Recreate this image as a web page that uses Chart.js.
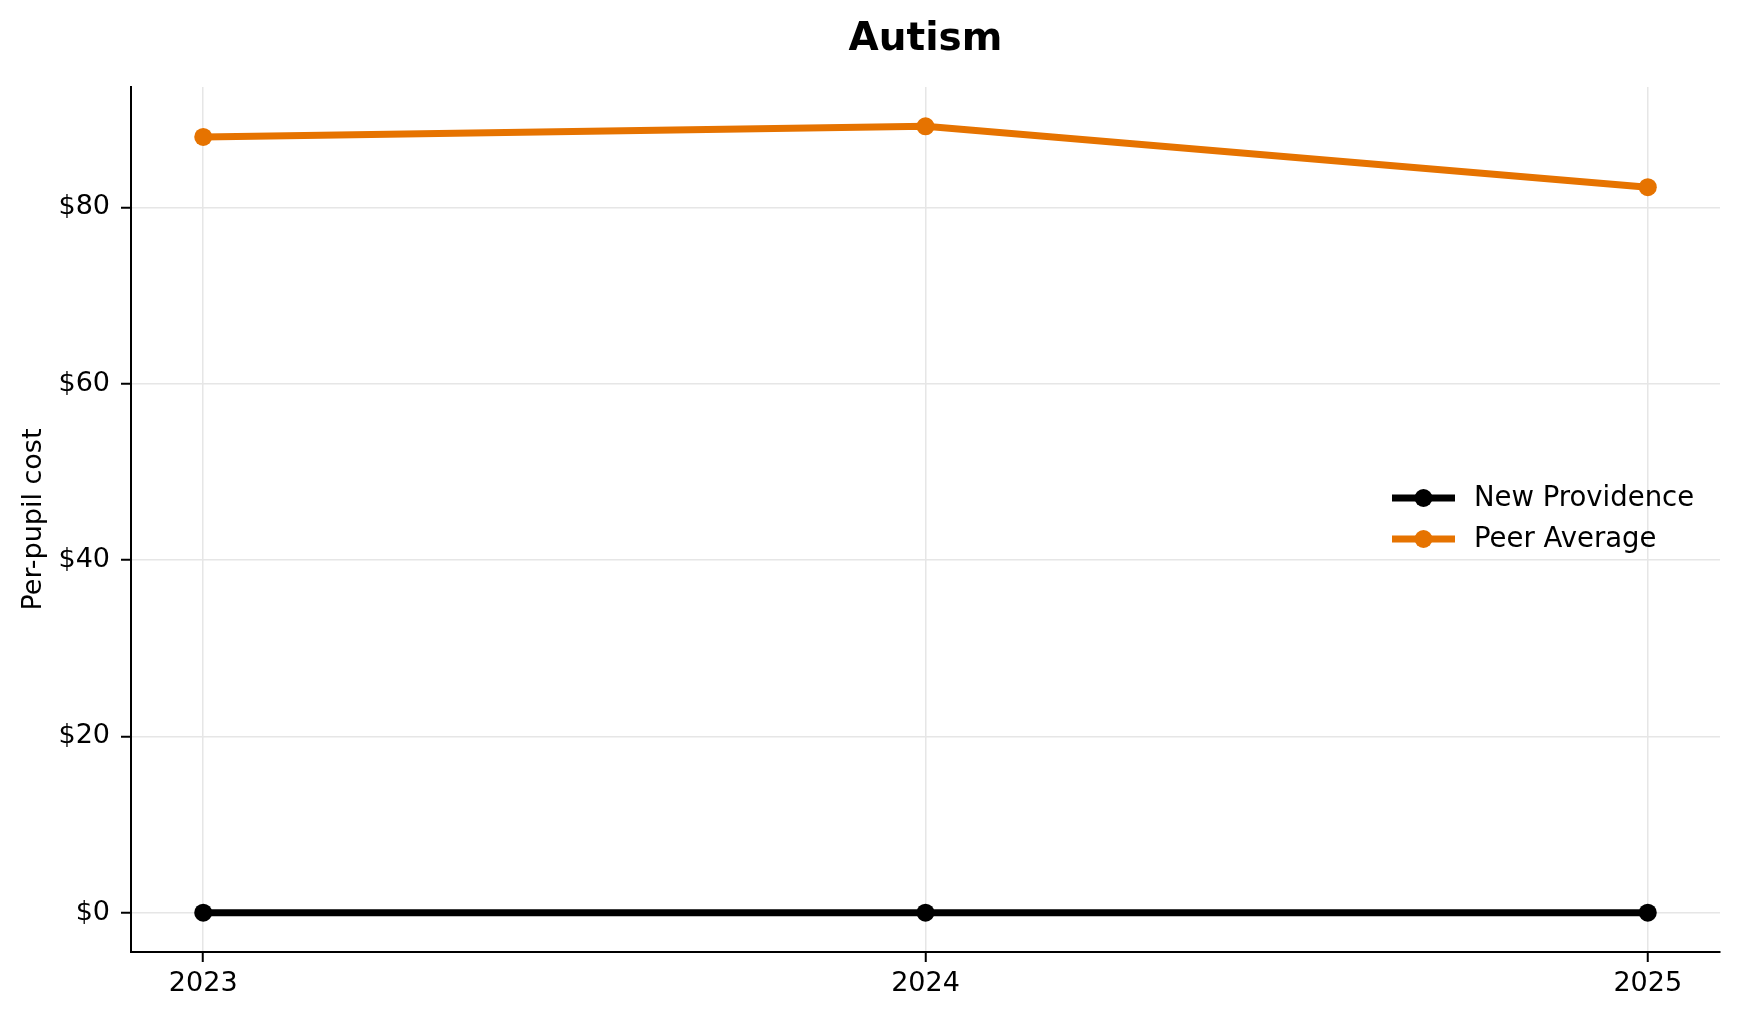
<!DOCTYPE html>
<html>
<head>
<meta charset="utf-8">
<script src="https://cdn.jsdelivr.net/npm/chart.js@4"></script>
<style>
  html, body { margin: 0; padding: 0; background: #fff; }
  #wrap { width: 1739px; height: 1019px; }
</style>
</head>
<body>
<div id="wrap"><canvas id="chart" width="1739" height="1019"></canvas></div>
<script>
// Chart data
const years = [2023, 2024, 2025];
const newProvidence = [0, 0, 0];
const peerAverage = [88.0, 89.2, 82.3];
const yTicks = [0, 20, 40, 60, 80];

const seriesNames = ["New Providence", "Peer Average"];
const seriesColors = ["#000000", "#e67300"];
const chartTitle = "Autism";

const FONT = "'DejaVu Sans', sans-serif";

const toPoints = (values) => values.map((v, i) => ({ x: years[i], y: v }));

// Title centred over the plot area (not the canvas), like matplotlib
const titlePlugin = {
  id: "axesTitle",
  afterDraw(chart) {
    const { ctx, chartArea } = chart;
    ctx.save();
    ctx.fillStyle = "#000";
    ctx.font = "bold 39px " + FONT;
    ctx.textAlign = "center";
    ctx.textBaseline = "alphabetic";
    ctx.fillText(chartTitle, (chartArea.left + chartArea.right) / 2, 50);
    ctx.restore();
  },
};

// Legend drawn inside the plot, matplotlib style
const legendPlugin = {
  id: "innerLegend",
  afterDraw(chart) {
    const ctx = chart.ctx;
    const rows = [498, 539];
    ctx.save();
    chart.data.datasets.forEach((ds, i) => {
      const y = rows[i];
      ctx.strokeStyle = ds.borderColor;
      ctx.lineWidth = 7;
      ctx.beginPath();
      ctx.moveTo(1392, y);
      ctx.lineTo(1455, y);
      ctx.stroke();
      ctx.fillStyle = ds.borderColor;
      ctx.beginPath();
      ctx.arc(1423.5, y, 9, 0, Math.PI * 2);
      ctx.fill();
      ctx.fillStyle = "#000";
      ctx.font = "27.5px " + FONT;
      ctx.textBaseline = "middle";
      ctx.textAlign = "left";
      ctx.fillText(ds.label, 1474, y + 1);
    });
    ctx.restore();
  },
};

const ctx = document.getElementById("chart").getContext("2d");
new Chart(ctx, {
  type: "line",
  data: {
    datasets: [
      {
        label: seriesNames[0],
        data: toPoints(newProvidence),
        borderColor: seriesColors[0],
        backgroundColor: seriesColors[0],
        borderWidth: 7,
        pointRadius: 9,
        pointBorderWidth: 0,
        tension: 0,
      },
      {
        label: seriesNames[1],
        data: toPoints(peerAverage),
        borderColor: seriesColors[1],
        backgroundColor: seriesColors[1],
        borderWidth: 7,
        pointRadius: 9,
        pointBorderWidth: 0,
        tension: 0,
      },
    ],
  },
  options: {
    responsive: false,
    animation: false,
    devicePixelRatio: 1,
    layout: { padding: { left: 0, right: 19, top: 87, bottom: 0 } },
    plugins: {
      legend: { display: false },
      tooltip: { enabled: false },
      title: { display: false },
    },
    scales: {
      x: {
        type: "linear",
        min: 2022.9,
        max: 2025.1,
        afterBuildTicks: (scale) => {
          scale.ticks = years.map((v) => ({ value: v }));
        },
        afterFit: (scale) => {
          scale.height = 67;
        },
        ticks: {
          color: "#000",
          font: { family: FONT, size: 27 },
          padding: 6,
          callback: (v) => String(v),
        },
        grid: {
          color: "#e6e6e6",
          lineWidth: 1.5,
          tickColor: "#000",
          tickLength: 10,
          tickWidth: 2,
        },
        border: { display: true, color: "#000", width: 2 },
      },
      y: {
        type: "linear",
        min: -4.46,
        max: 93.66,
        afterBuildTicks: (scale) => {
          scale.ticks = yTicks.map((v) => ({ value: v }));
        },
        afterFit: (scale) => {
          scale.width = 131;
        },
        ticks: {
          color: "#000",
          font: { family: FONT, size: 27 },
          padding: 11,
          callback: (v) => "$" + v,
        },
        title: {
          display: true,
          text: "Per-pupil cost",
          color: "#000",
          font: { family: FONT, size: 27 },
          padding: { top: 18, bottom: 0 },
        },
        grid: {
          color: "#e6e6e6",
          lineWidth: 1.5,
          tickColor: "#000",
          tickLength: 10,
          tickWidth: 2,
        },
        border: { display: true, color: "#000", width: 2 },
      },
    },
  },
  plugins: [titlePlugin, legendPlugin],
});
</script>
</body>
</html>
